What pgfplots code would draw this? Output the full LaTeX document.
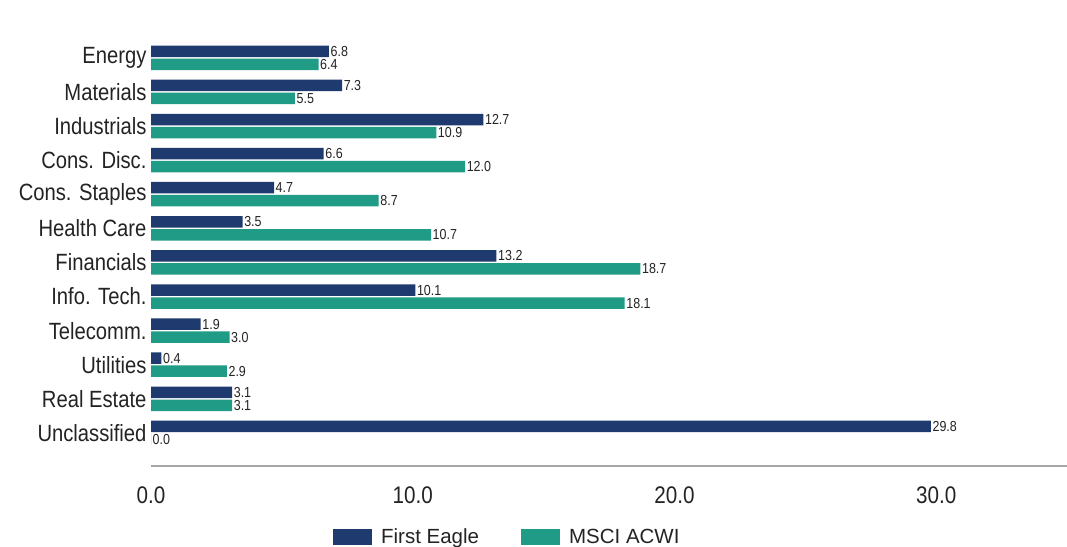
\documentclass[border=0pt]{standalone}
\usepackage{fontspec}
\setmainfont{Liberation Sans}
\newfontfamily\narrowfont[FakeStretch=0.86]{Liberation Sans}
\usepackage{pgfplots}
\pgfplotsset{compat=1.18}
\definecolor{navy}{RGB}{30,58,110}
\definecolor{teal2}{RGB}{32,155,133}
\definecolor{axgray}{RGB}{165,165,165}
\definecolor{txt}{RGB}{35,35,35}
\begin{document}
\begin{tikzpicture}
\path[use as bounding box] (0pt,0pt) rectangle (1067pt,-546pt);
\begin{axis}[
  at={(151pt,-466pt)}, anchor=south west,
  scale only axis, width=916pt, height=443.3pt,
  xmin=0, xmax=35, ymin=-0.97, ymax=12.03,
  xbar, bar width=11.5pt,
  /pgf/number format/assume math mode=true,
  axis x line*=bottom, axis y line*=left,
  x axis line style={axgray, line width=1.6pt},
  y axis line style={draw=none},
  xtick={0,10,20,30}, major tick length=0pt,
  xticklabel={\pgfmathprintnumber[fixed,fixed zerofill,precision=1]{\tick}},
  xticklabel style={font=\narrowfont\fontsize{24}{24}\selectfont, text=txt, yshift=-17pt},
  ytick={0,...,11},
  yticklabels={Unclassified,Real Estate,Utilities,Telecomm.,Info. Tech.,Financials,Health Care,Cons. Staples,Cons. Disc.,Industrials,Materials,Energy},
  yticklabel style={font=\narrowfont\fontsize{23.5}{23.5}\selectfont, text=txt, xshift=-1pt},
  nodes near coords={\pgfmathprintnumber[fixed,fixed zerofill,precision=1]{\pgfplotspointmeta}},
  nodes near coords style={font=\narrowfont\fontsize{14.5}{14.5}\selectfont, text=txt, anchor=west, inner sep=1.5pt},
  point meta=x,
  legend columns=2,
  legend style={at={(0.389,-0.16)}, anchor=center, draw=none, fill=none,
    font=\fontsize{20.5}{20.5}\selectfont, text=txt,
    /tikz/every odd column/.append style={column sep=7pt},
    /tikz/every even column/.append style={column sep=40pt}},
  legend image code/.code={\fill[#1] (0pt,-8pt) rectangle (39pt,8pt);},
  clip=false,
]
\addplot[fill=navy, draw=none, bar shift=6.5pt] coordinates {
(6.8,11) (7.3,10) (12.7,9) (6.6,8) (4.7,7) (3.5,6) (13.2,5) (10.1,4) (1.9,3) (0.4,2) (3.1,1) (29.8,0)};
\addplot[fill=teal2, draw=none, bar shift=-6.5pt] coordinates {
(6.4,11) (5.5,10) (10.9,9) (12.0,8) (8.7,7) (10.7,6) (18.7,5) (18.1,4) (3.0,3) (2.9,2) (3.1,1) (0.0,0)};
\legend{First Eagle, MSCI ACWI}
\end{axis}
\end{tikzpicture}
\end{document}
